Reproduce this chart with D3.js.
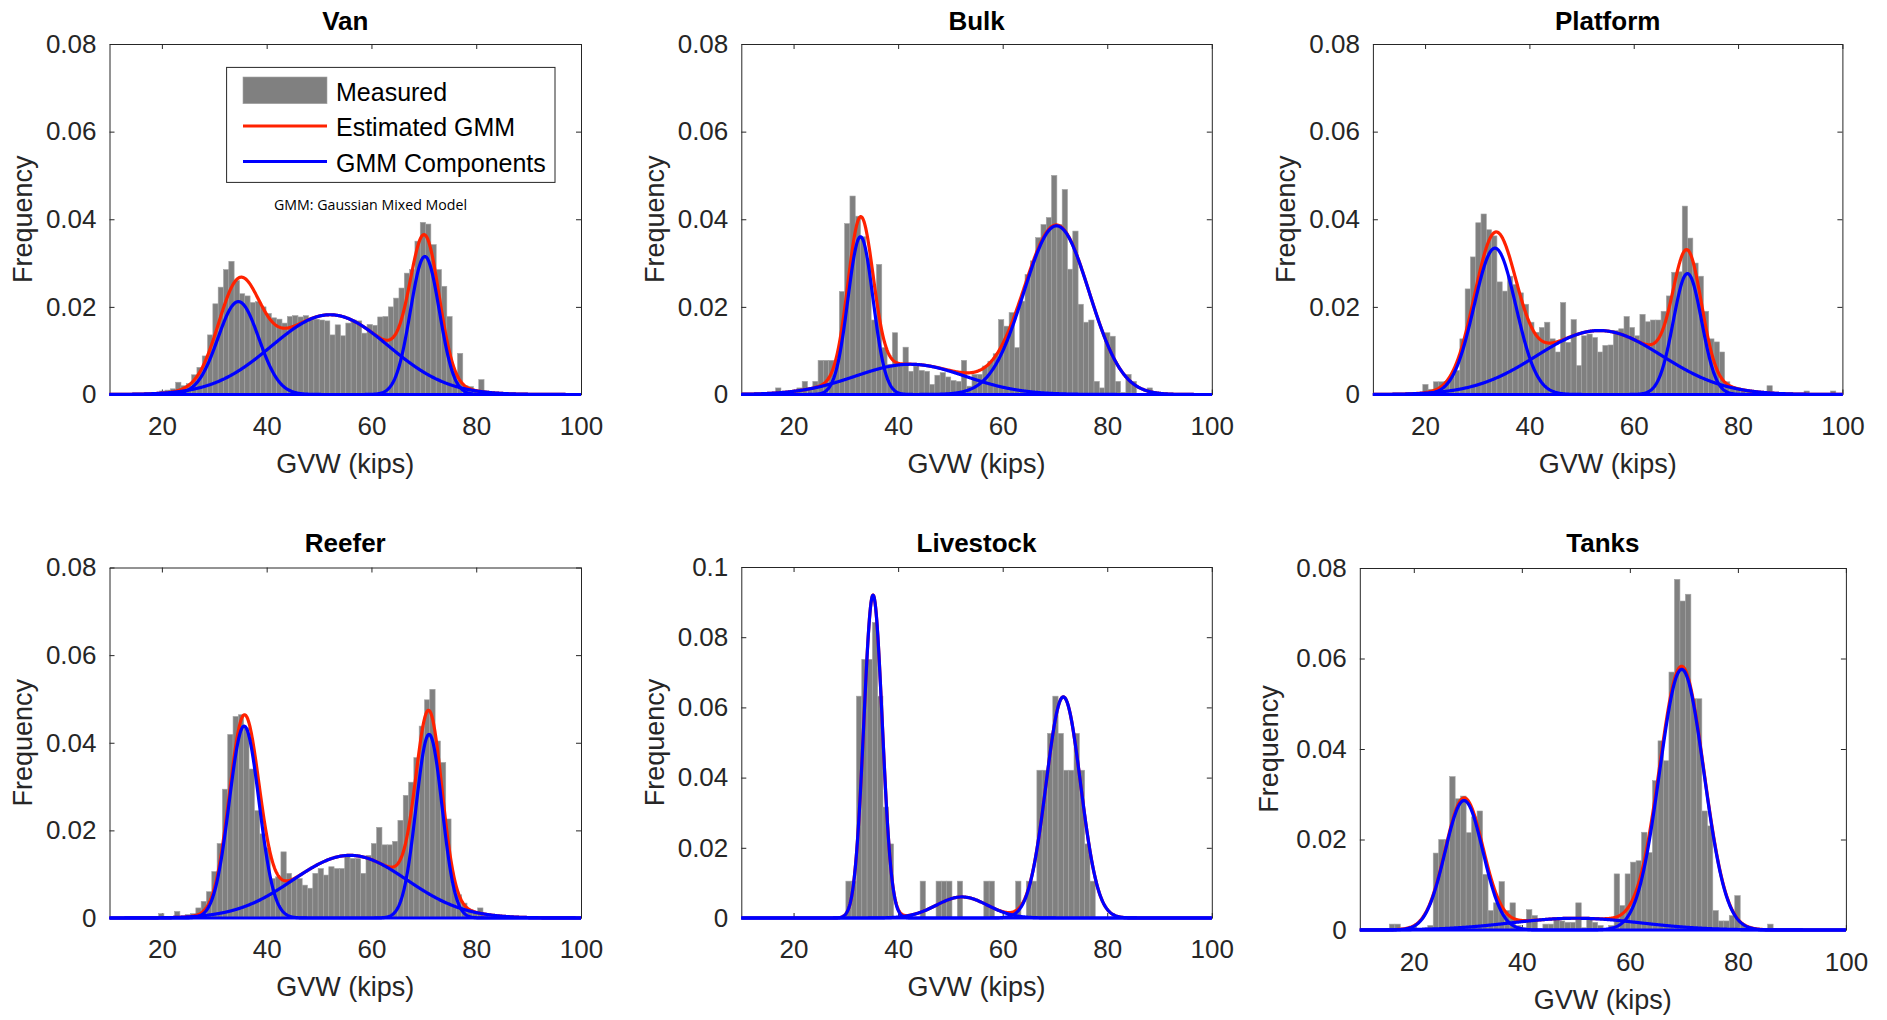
<!DOCTYPE html>
<html>
<head>
<meta charset="utf-8">
<script src="https://cdn.jsdelivr.net/npm/d3@7"></script>
<style>
  html, body { margin: 0; padding: 0; background: #fff; }
  svg { display: block; font-family: "Liberation Sans", Arial, Helvetica, sans-serif; }
</style>
</head>
<body>
<svg id="chart" width="1887" height="1020"></svg>
<script>
// ---- data ---------------------------------------------------------------
const panelNames = ["Van", "Bulk", "Platform", "Reefer", "Livestock", "Tanks"];
const xTicks = [20, 40, 60, 80, 100];
const yTicksA = [0, 0.02, 0.04, 0.06, 0.08];
const yTicksB = [0, 0.02, 0.04, 0.06, 0.08, 0.1];
const xLabel = "GVW (kips)";
const yLabel = "Frequency";
const legendLabels = ["Measured", "Estimated GMM", "GMM Components"];
const noteText = "GMM: Gaussian Mixed Model";

// histogram bins (kips): left edge of first bin, common bin width
const binWidth = 1.015;
const binStart = { Van: 17.55, Bulk: 16.57, Platform: 19.565, Reefer: 17.345, Livestock: 30.0, Tanks: 15.475 };

// measured relative frequency per bin
const vanFreq = [0.0004, 0.0005, 0.0008, 0.001, 0.0013, 0.0028, 0.002, 0.0025, 0.0045, 0.0062,
  0.0088, 0.0136, 0.0207, 0.0245, 0.0285, 0.0304, 0.026, 0.023, 0.0225, 0.021,
  0.0212, 0.02, 0.0185, 0.0175, 0.0172, 0.0163, 0.0178, 0.018, 0.0177, 0.018,
  0.0174, 0.0172, 0.017, 0.0168, 0.0136, 0.0159, 0.0134, 0.0163, 0.017, 0.0168,
  0.014, 0.016, 0.0158, 0.0177, 0.0178, 0.02, 0.022, 0.0243, 0.0277, 0.0285,
  0.035, 0.0393, 0.0389, 0.0342, 0.0285, 0.0247, 0.0178, 0.005, 0.0094, 0.002,
  0.0018, 0.001, 0.0034, 0.0008, 0.0004];
const bulkFreq = [0.0015, 0, 0, 0.0008, 0.0015, 0.003, 0.0015, 0.003, 0.0078, 0.0078,
  0.0078, 0.0078, 0.0235, 0.039, 0.0453, 0.0407, 0.036, 0.031, 0.017, 0.0297,
  0.0107, 0.0069, 0.0141, 0.0065, 0.0108, 0.0053, 0.0065, 0.0055, 0.0053, 0.0023,
  0.0044, 0.005, 0.004, 0.0032, 0.003, 0.0078, 0.0019, 0.0046, 0.0046, 0.0065,
  0.0076, 0.0093, 0.0171, 0.0156, 0.0187, 0.0107, 0.0213, 0.0274, 0.0305, 0.0358,
  0.0388, 0.0404, 0.05, 0.0388, 0.0468, 0.0286, 0.0373, 0.0206, 0.0165, 0.017,
  0.003, 0.0015, 0.0141, 0.0133, 0.003, 0.0005, 0.0046, 0.003, 0, 0, 0.0015];
const platformFreq = [0.0023, 0.0012, 0.0029, 0.0029, 0.003, 0.004, 0.0055, 0.0127, 0.0241, 0.0314,
  0.0392, 0.0412, 0.0376, 0.0362, 0.0257, 0.0236, 0.027, 0.0251, 0.0232, 0.0206,
  0.0165, 0.0142, 0.0153, 0.0165, 0.0127, 0.0097, 0.021, 0.0119, 0.0171, 0.0066,
  0.0134, 0.0138, 0.013, 0.0097, 0.0112, 0.0113, 0.0146, 0.015, 0.0178, 0.0153,
  0.0134, 0.0183, 0.0166, 0.017, 0.017, 0.019, 0.0225, 0.0279, 0.028, 0.043,
  0.0357, 0.03, 0.027, 0.019, 0.0127, 0.012, 0.0097, 0.0029, 0.0018, 0.0015,
  0.0012, 0.0008, 0.0006, 0.0005, 0.0004, 0.002, 0.0003, 0.0002, 0, 0,
  0, 0, 0.0008, 0, 0, 0, 0, 0.0008];
const reeferFreq = [0.0003, 0, 0.001, 0, 0.0003, 0.0015, 0.0003, 0.0008, 0.001, 0.0023,
  0.0038, 0.006, 0.0106, 0.017, 0.0294, 0.0419, 0.046, 0.0464, 0.0434, 0.034,
  0.0245, 0.0192, 0.016, 0.009, 0.0094, 0.0151, 0.0102, 0.009, 0.009, 0.0075,
  0.0068, 0.0102, 0.0113, 0.0098, 0.0117, 0.0113, 0.0113, 0.014, 0.0136, 0.0136,
  0.0102, 0.0143, 0.017, 0.0207, 0.0167, 0.0167, 0.0175, 0.0223, 0.028, 0.031,
  0.0366, 0.0438, 0.0498, 0.0522, 0.0404, 0.0355, 0.0226, 0.0079, 0.0053, 0.0034,
  0.002, 0.0015, 0.0023, 0.0005];
const livestockFreq = [0.0105, 0.0105, 0.0632, 0.0737, 0.0737, 0.0842, 0.0632, 0.0316, 0.0211, 0,
  0, 0, 0, 0, 0.0105, 0, 0, 0.0105, 0.0105, 0.0105,
  0, 0.0105, 0, 0, 0, 0, 0.0105, 0.0105, 0, 0,
  0, 0, 0.0105, 0, 0.0105, 0.0105, 0.0421, 0.0421, 0.0526, 0.0632,
  0.0526, 0.0421, 0.0421, 0.0526, 0.0421, 0.0211, 0.0105];
const tanksFreq = [0.0013, 0.0013, 0, 0, 0.0008, 0, 0.0005, 0.001, 0.017, 0.02,
  0.02, 0.0339, 0.029, 0.0296, 0.0215, 0.025, 0.0263, 0.0123, 0.0043, 0.006,
  0.0107, 0.0043, 0.006, 0.001, 0.0005, 0.0045, 0.0032, 0, 0.0013, 0.0013,
  0.0028, 0.002, 0.0017, 0.0017, 0.006, 0.0005, 0.0024, 0.0017, 0.001, 0,
  0.001, 0.0124, 0.0054, 0.0124, 0.015, 0.0153, 0.0216, 0.0171, 0.033, 0.0418,
  0.0374, 0.057, 0.0775, 0.0727, 0.0742, 0.0511, 0.0511, 0.0263, 0.023, 0.0043,
  0.002, 0.002, 0.0032, 0.0076, 0.0013, 0, 0, 0, 0, 0.0013];

// fitted mixture components per vehicle type: mean (kips), std dev (kips), peak frequency
const compMean = { Van: [34.6, 52.1, 70.2], Bulk: [32.8, 42.3, 70.3], Platform: [33.4, 53.4, 70.3],
                   Reefer: [35.7, 55.9, 71.0], Livestock: [35.2, 52.2, 71.6], Tanks: [29.3, 50.0, 69.6] };
const compSd   = { Van: [3.9, 11.2, 2.76], Bulk: [2.4, 10.5, 6.25], Platform: [4.0, 12.0, 2.72],
                   Reefer: [2.84, 10.9, 2.48], Livestock: [1.76, 4.9, 3.3], Tanks: [3.5, 12.0, 4.1] };
const compPeak = { Van: [0.0212, 0.0182, 0.0315], Bulk: [0.036, 0.0069, 0.0385], Platform: [0.0334, 0.0146, 0.0276],
                   Reefer: [0.0438, 0.0143, 0.0419], Livestock: [0.092, 0.006, 0.063], Tanks: [0.0286, 0.0026, 0.0576] };

const freqByPanel = { Van: vanFreq, Bulk: bulkFreq, Platform: platformFreq,
                      Reefer: reeferFreq, Livestock: livestockFreq, Tanks: tanksFreq };

// ---- layout ---------------------------------------------------------------
const layout = {
  Van:       { x0: 109.5, x1: 581.0,  y0: 44.0, y1: 394.5, ymax: 0.08, title: 21,  tickY: 31, xlab: 464,  ylabX: 23 },
  Bulk:      { x0: 741.3, x1: 1211.8, y0: 44.0, y1: 394.5, ymax: 0.08, title: 21,  tickY: 31, xlab: 464,  ylabX: 654.5 },
  Platform:  { x0: 1372.9, x1: 1842.4, y0: 44.0, y1: 394.5, ymax: 0.08, title: 21, tickY: 31, xlab: 464,  ylabX: 1286 },
  Reefer:    { x0: 109.5, x1: 581.0,  y0: 567.5, y1: 918.0, ymax: 0.08, title: 543, tickY: 31, xlab: 987, ylabX: 23 },
  Livestock: { x0: 741.3, x1: 1211.8, y0: 567.0, y1: 918.0, ymax: 0.1,  title: 543, tickY: 31, xlab: 987, ylabX: 654.5 },
  Tanks:     { x0: 1359.8, x1: 1845.9, y0: 568.0, y1: 930.0, ymax: 0.08, title: 543, tickY: 32, xlab: 1000, ylabX: 1269 }
};

const ink = "#262626";
const barFill = "#808080";
const redLine = "#ff2200";
const blueLine = "#0000ff";
const tickFont = 26;

const svg = d3.select("#chart");

function fmtY(d) { return d === 0 ? "0" : String(+d.toFixed(2)); }

function styleAxis(g) {
  g.attr("font-size", null).attr("font-family", null).attr("color", ink);
  g.selectAll(".domain").attr("stroke-width", 1);
  g.selectAll(".tick line").attr("stroke-width", 1);
  g.selectAll("text").attr("font-size", tickFont).attr("fill", ink);
}

function drawPanel(name) {
  const L = layout[name];
  const g = svg.append("g").attr("class", "panel");
  const x = d3.scaleLinear().domain([10, 100]).range([L.x0, L.x1]);
  const y = d3.scaleLinear().domain([0, L.ymax]).range([L.y1, L.y0]);
  const yTicks = L.ymax > 0.09 ? yTicksB : yTicksA;

  // axes box with inward ticks on all four sides
  g.append("rect").attr("x", L.x0).attr("y", L.y0).attr("width", L.x1 - L.x0).attr("height", L.y1 - L.y0)
    .attr("fill", "#fff");
  const bottom = g.append("g").attr("transform", `translate(0,${L.y1})`)
    .call(d3.axisBottom(x).tickValues(xTicks).tickSize(-5).tickSizeOuter(0).tickPadding(L.tickY - 9));
  styleAxis(bottom);
  const top = g.append("g").attr("transform", `translate(0,${L.y0})`)
    .call(d3.axisTop(x).tickValues(xTicks).tickSize(-5).tickSizeOuter(0).tickFormat(""));
  styleAxis(top);
  const left = g.append("g").attr("transform", `translate(${L.x0},0)`)
    .call(d3.axisLeft(y).tickValues(yTicks).tickSize(-5).tickSizeOuter(0).tickPadding(13).tickFormat(fmtY));
  styleAxis(left);
  const right = g.append("g").attr("transform", `translate(${L.x1},0)`)
    .call(d3.axisRight(y).tickValues(yTicks).tickSize(-5).tickSizeOuter(0).tickFormat(""));
  styleAxis(right);

  // measured histogram
  const freq = freqByPanel[name];
  const s0 = binStart[name];
  g.append("g").selectAll("rect").data(freq).join("rect")
    .attr("x", (d, i) => x(s0 + i * binWidth))
    .attr("width", (d, i) => x(s0 + (i + 1) * binWidth) - x(s0 + i * binWidth))
    .attr("y", d => y(d))
    .attr("height", d => y(0) - y(d))
    .attr("fill", barFill)
    .attr("stroke", "#a3a3a3")
    .attr("stroke-width", 0.6);

  // mixture model curves
  const xs = d3.range(10, 100.0001, 0.1);
  const means = compMean[name], sds = compSd[name], peaks = compPeak[name];
  const comps = means.map((m, k) => xs.map(v => [v, peaks[k] * Math.exp(-0.5 * ((v - m) / sds[k]) ** 2)]));
  const total = xs.map((v, j) => [v, d3.sum(comps, c => c[j][1])]);
  const line = d3.line().x(d => x(d[0])).y(d => y(d[1]));

  g.append("path").datum(total).attr("d", line).attr("fill", "none")
    .attr("stroke", redLine).attr("stroke-width", 3.2).attr("stroke-linejoin", "round");
  comps.forEach(c => {
    g.append("path").datum(c).attr("d", line).attr("fill", "none")
      .attr("stroke", blueLine).attr("stroke-width", 3.2).attr("stroke-linejoin", "round");
  });

  // titles and axis labels
  g.append("text").attr("x", (L.x0 + L.x1) / 2).attr("y", L.title)
    .attr("text-anchor", "middle").attr("dominant-baseline", "central")
    .attr("font-size", 26).attr("font-weight", "bold").attr("fill", "#000").text(name);
  g.append("text").attr("x", (L.x0 + L.x1) / 2).attr("y", L.xlab)
    .attr("text-anchor", "middle").attr("dominant-baseline", "central")
    .attr("font-size", 27).attr("fill", ink).text(xLabel);
  g.append("text").attr("transform", `translate(${L.ylabX},${(L.y0 + L.y1) / 2}) rotate(-90)`)
    .attr("text-anchor", "middle").attr("dominant-baseline", "central")
    .attr("font-size", 27).attr("fill", ink).text(yLabel);
}

panelNames.forEach(drawPanel);

// legend inside the first panel
const lg = svg.append("g").attr("class", "legend");
lg.append("rect").attr("x", 226.6).attr("y", 67.4).attr("width", 328.4).attr("height", 115)
  .attr("fill", "#fff").attr("stroke", ink).attr("stroke-width", 1);
lg.append("rect").attr("x", 243).attr("y", 77).attr("width", 84).attr("height", 26.7)
  .attr("fill", barFill).attr("stroke", "#a3a3a3").attr("stroke-width", 0.6);
lg.append("line").attr("x1", 243).attr("x2", 327).attr("y1", 126).attr("y2", 126)
  .attr("stroke", redLine).attr("stroke-width", 3);
lg.append("line").attr("x1", 243).attr("x2", 327).attr("y1", 161.5).attr("y2", 161.5)
  .attr("stroke", blueLine).attr("stroke-width", 3);
const legendY = [92, 127, 162.5];
lg.selectAll("text.item").data(legendLabels).join("text").attr("class", "item")
  .attr("x", 336).attr("y", (d, i) => legendY[i])
  .attr("dominant-baseline", "central").attr("font-size", 25).attr("fill", "#000").text(d => d);

svg.append("text").attr("x", 370.5).attr("y", 203.5)
  .attr("text-anchor", "middle").attr("dominant-baseline", "central")
  .attr("font-family", "'Open Sans', 'Noto Sans', sans-serif").attr("font-size", 15)
  .attr("textLength", 193).attr("lengthAdjust", "spacingAndGlyphs")
  .attr("fill", "#000").text(noteText);
</script>
</body>
</html>
